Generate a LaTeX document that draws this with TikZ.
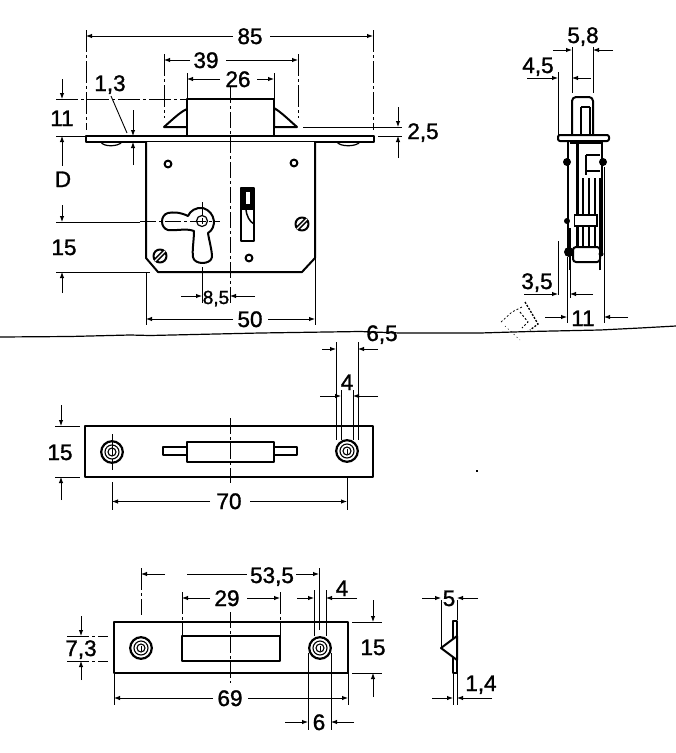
\documentclass[tikz,border=0pt]{standalone}
\usepackage{fontspec}
\setmainfont{Liberation Sans}
\newfontfamily\dimfont[FakeBold=1.3]{Liberation Sans}
\usetikzlibrary{arrows.meta}
\tikzset{
  lab/.style={font=\dimfont\fontsize{22.5}{22.5}\selectfont,inner sep=0pt,text height=16pt,text depth=0pt,anchor=center},
  part/.style={draw=black,line width=2pt,line join=round},
  thin part/.style={draw=black,line width=1.2pt},
  dimline/.style={draw=black,line width=0.9pt},
  arr/.style={draw=black,line width=0.9pt,-{Latex[length=6pt,width=4.5pt]}},
  cline/.style={draw=black,line width=0.9pt,dash pattern=on 16pt off 3pt on 3pt off 3pt},
  brk/.style={draw=black,line width=0.9pt,dash pattern=on 22pt off 3pt on 3pt off 3pt},
  fold/.style={draw=black,line width=1.2pt,line join=round},
}
\newcommand{\screwhead}[2]{%
  \draw[part] (#1,#2) circle (6.5);
  \draw[black,line width=4.4pt] (#1-5,#2+5) -- (#1+5,#2-5);
  \draw[white,line width=1.3pt] (#1-5,#2+5) -- (#1+5,#2-5);
}
\newcommand{\countersunk}[2]{%
  \draw[black,line width=2.2pt,fill=white] (#1,#2) circle (10.8);
  \draw[black,line width=1.1pt] (#1,#2) circle (7);
  \draw[black,line width=1.1pt] (#1,#2) circle (4);
  \draw[black,line width=0.9pt] (#1,#2-2.5) -- (#1,#2+2.5);
}
\begin{document}
\begin{tikzpicture}[x=1pt,y=-1pt]
\useasboundingbox (0,0) rectangle (676,753);
\fill[white] (0,0) rectangle (676,753);

% ---------- scan fold
\draw[fold] (0,337) -- (70,336.5) -- (130,335) -- (150,335.5) -- (260,333) -- (360,331.5) -- (400,333) -- (480,333) -- (530,331.5) -- (600,330) -- (640,328) -- (676,326);
\draw[black,line width=0.7pt,dash pattern=on 2pt off 2pt] (501,322) -- (512,312) -- (522,307);
\draw[black,line width=1.3pt,dash pattern=on 2pt off 1.5pt] (525,302) -- (531,312) -- (538,324) -- (530,330);
\draw[black,line width=1pt,dash pattern=on 2pt off 2pt] (520,312) -- (528,322) -- (522,328);
\draw[black,line width=0.6pt,dash pattern=on 1pt off 3pt] (505,326) -- (520,340);
\fill[black] (476,470) rectangle (478,471.5);

% ---------- front view: lock
\draw[part,fill=white] (164,127) .. controls (172,120) and (180,112) .. (187,109) -- (187,127) -- cycle;
\draw[part,fill=white] (297,127) .. controls (289,120) and (281,112) .. (274,108) -- (274,127) -- cycle;
\draw[part,fill=white] (187,99) rectangle (274,136);
\draw[part,fill=white] (86,136) rectangle (374,142);
\draw[thin part] (101,142) .. controls (103,147) and (118,147) .. (122,142);
\draw[thin part] (337,142) .. controls (340,147) and (356,147) .. (360,142);
\draw[part,fill=white] (146,142) -- (146,258) -- (158,272) -- (302,272) -- (315,258) -- (315,142);
\draw[part] (168,164) circle (3.4);
\draw[part] (294,163) circle (3.4);
\draw[part] (249,258) circle (3.4);
\screwhead{302}{224}
\screwhead{160}{256}
% keyhole
\draw[part,fill=white] (188,216) .. controls (180,212) and (173,212) .. (168,213)
  .. controls (160,215) and (160,228) .. (168,230)
  .. controls (176,231) and (186,228) .. (194,231)
  .. controls (194,240) and (192,250) .. (193,257)
  .. controls (194,265) and (211,265) .. (212,257)
  .. controls (212,250) and (209,240) .. (208,233)
  .. controls (217,228) and (216,212) .. (203,208)
  .. controls (196,207) and (190,211) .. (188,216) -- cycle;
\draw[thin part] (202,221) circle (5.5);
\draw[line width=0.8pt] (199,221) -- (205,221) (202,218) -- (202,224);
% bolt-gear slot
\draw[part,fill=white] (241,188) rectangle (254,241);
\fill[black] (241,188) rectangle (254,210);
\fill[white] (246,192) rectangle (250,204);
\draw[black,line width=1.5pt] (246,208) .. controls (246,216) and (250,222) .. (254,224);
% centre lines
\draw[cline] (230,87) -- (230,303);
\draw[cline] (140,221) -- (220,221);
\draw[cline] (202,202) -- (202,216);
% dimensions
\node[lab] (d85) at (250,36) {85};
\draw[arr] (233,36) -- (86,36);
\draw[arr] (270,36) -- (373,36);
\draw[brk] (86,30) -- (86,130);
\draw[brk] (373,30) -- (373,130);
\node[lab] (d39) at (206,60) {39};
\draw[arr] (190,60) -- (164,60);
\draw[arr] (226,60) -- (298,60);
\draw[brk] (164,54) -- (164,118);
\draw[brk] (298,54) -- (298,118);
\node[lab] (d26) at (238,79) {26};
\draw[arr] (220,79) -- (187,79);
\draw[arr] (257,79) -- (274,79);
\draw[dimline] (187,73) -- (187,99);
\draw[dimline] (274,73) -- (274,99);
\node[lab] (d11) at (62,118) {11};
\node[lab] (dD) at (63,179) {D};
\node[lab] (d15a) at (64,247) {15};
\draw[arr] (62,79) -- (62,99);
\draw[arr] (62,152) -- (62,136);
\draw[brk] (56,99) -- (187,99);
\draw[dimline] (56,136) -- (86,136);
\draw[cline] (62,152) -- (62,166);
\draw[arr] (62,205) -- (62,222);
\draw[dimline] (56,222) -- (140,222);
\draw[dimline] (56,272) -- (150,272);
\draw[arr] (62,293) -- (62,272);
\node[lab] (d13) at (110,83) {1,3};
\draw[dimline] (111,96) -- (127,133);
\draw[arr] (133,110) -- (133,136);
\draw[arr] (133,165) -- (133,142);
\node[lab] (d25) at (423,131) {2,5};
\draw[dimline] (303,127) -- (402,127);
\draw[dimline] (378,136) -- (402,136);
\draw[arr] (398,107) -- (398,127);
\draw[arr] (398,158) -- (398,136);
\node[lab,font=\dimfont\fontsize{19}{19}\selectfont] (d85b) at (216,296) {8,5};
\draw[dimline] (202,267) -- (202,303);
\draw[arr] (181,296) -- (202,296);
\draw[arr] (255,296) -- (230,296);
\node[lab] (d50) at (250,319) {50};
\draw[dimline] (146,272) -- (146,325);
\draw[dimline] (315,258) -- (315,325);
\draw[arr] (233,319) -- (146,319);
\draw[arr] (268,319) -- (315,319);

% ---------- side view
\draw[part,fill=white,rounded corners=4pt] (572,135) -- (572,97) -- (593,97) -- (593,135);
\draw[black,line width=2.2pt] (581,107) -- (581,135);
\draw[black,line width=1.2pt] (590,107) -- (590,135);
\draw[black,line width=1.2pt] (581,107) -- (590,107);
\draw[part,fill=white,rounded corners=2pt] (558,135) rectangle (609,141);
\draw[part] (568,141) -- (568,252);
\draw[part] (602,141) -- (602,252);
\draw[black,line width=3pt] (577,141) -- (577,252);
\draw[black,line width=1.8pt] (570,270) -- (570,228);
\draw[black,line width=1.8pt] (600,270) -- (600,228);
\draw[black,line width=1.4pt] (570,143) -- (602,143);
\draw[black,line width=1.4pt] (586,155) -- (600,155);
\draw[black,line width=1.4pt] (586,155) -- (586,175);
\draw[black,line width=1.4pt] (586,171) -- (600,171);
\foreach \xx in {583,589,595,600} \draw[black,line width=1.3pt] (\xx,178) -- (\xx,248);
\fill[white] (574.5,215) rectangle (597,226);
\draw[black,line width=1.3pt] (574.5,215) rectangle (597,226);
\draw[part,fill=white,rounded corners=3pt] (573,247) rectangle (600,262);
\fill[black] (567,162) circle (4);
\fill[black] (603,162) circle (4);
\fill[black] (567,221) circle (3);
\fill[black] (569,252) circle (5);
\fill[black] (601,254) circle (2.5);
\node[lab] (s58) at (583,35) {5,8};
\draw[dimline] (572,47) -- (572,93);
\draw[dimline] (593,47) -- (593,93);
\draw[arr] (553,50) -- (572,50);
\draw[arr] (613,50) -- (593,50);
\node[lab] (s45) at (538,65) {4,5};
\draw[dimline] (558,72) -- (558,135);
\draw[dimline] (558,241) -- (558,295);
\draw[arr] (527,78) -- (558,78);
\draw[arr] (591,78) -- (572,78);
\node[lab] (s35) at (537,281) {3,5};
\draw[dimline] (570,270) -- (570,298);
\draw[arr] (524,294) -- (558,294);
\draw[arr] (593,294) -- (570,294);
\node[lab] (s11) at (583,318) {11};
\draw[dimline] (567,257) -- (567,323);
\draw[dimline] (604,167) -- (604,323);
\draw[arr] (545,317) -- (567,317);
\draw[arr] (628,317) -- (604,317);

% ---------- forend plate
\draw[part,fill=white] (85,426) rectangle (373,477);
\countersunk{112}{452}
\countersunk{347}{451}
\draw[part,fill=white] (163,447) rectangle (187,455);
\draw[part,fill=white] (274,447) rectangle (297,455);
\draw[part,fill=white] (187,442) rectangle (274,462);
\draw[cline] (230,418) -- (230,483);
\draw[cline] (112,434) -- (112,470);
\node[lab] (p15) at (60,452) {15};
\draw[dimline] (55,426) -- (80,426);
\draw[dimline] (55,477) -- (80,477);
\draw[arr] (61,405) -- (61,426);
\draw[arr] (61,500) -- (61,477);
\node[lab] (p70) at (229,501) {70};
\draw[dimline] (112,482) -- (112,510);
\draw[dimline] (347,478) -- (347,510);
\draw[arr] (210,501.5) -- (112,501.5);
\draw[arr] (250,501.5) -- (347,501.5);
\node[lab] (p4) at (347,382) {4};
\draw[dimline] (341,390) -- (341,440);
\draw[dimline] (353,390) -- (353,440);
\draw[arr] (320,396) -- (341,396);
\draw[arr] (378,396) -- (353,396);
\node[lab,fill=none] (p65) at (382,333) {6,5};
\draw[dimline] (336,342) -- (336,440);
\draw[dimline] (358,342) -- (358,440);
\draw[arr] (322,349) -- (336,349);
\draw[arr] (378,349) -- (358,349);

% ---------- striking plate
\draw[part,fill=white] (114,622) rectangle (348,673);
\countersunk{141}{648}
\countersunk{320}{648}
\draw[part,fill=white] (182,636) rectangle (280,661);
\draw[cline] (230,612) -- (230,683);
\node[lab] (q535) at (272,575) {53,5};
\draw[brk] (141,568) -- (141,615);
\draw[dimline] (319,568) -- (319,630);
\draw[arr] (165,574) -- (141,574);
\draw[dimline] (187,574) -- (247,574);
\draw[arr] (296,574) -- (319,574);
\node[lab] (q29) at (227,598) {29};
\draw[brk] (182,592) -- (182,636);
\draw[brk] (280,592) -- (280,636);
\draw[arr] (210,598) -- (182,598);
\draw[arr] (247,598) -- (280,598);
\node[lab] (q4) at (342,588) {4};
\draw[dimline] (314,590) -- (314,636);
\draw[dimline] (326,590) -- (326,636);
\draw[arr] (297,598) -- (314,598);
\draw[arr] (357,598) -- (326,598);
\node[lab] (q15) at (373,647) {15};
\draw[dimline] (352,622) -- (382,622);
\draw[dimline] (352,673) -- (382,673);
\draw[arr] (373,600) -- (373,622);
\draw[arr] (373,697) -- (373,673);
\node[lab] (q73) at (81,648) {7,3};
\draw[brk] (67,636) -- (108,636);
\draw[brk] (67,661) -- (108,661);
\draw[arr] (81,616) -- (81,636);
\draw[arr] (81,680) -- (81,661);
\node[lab] (q69) at (230,698) {69};
\draw[dimline] (114,673) -- (114,705);
\draw[dimline] (348,673) -- (348,705);
\draw[arr] (213,698) -- (114,698);
\draw[arr] (248,698) -- (348,698);
\node[lab] (q6) at (319,722) {6};
\draw[dimline] (308,653) -- (308,730);
\draw[dimline] (331,653) -- (331,730);
\draw[arr] (285,722) -- (308,722);
\draw[arr] (354,722) -- (331,722);
% striking plate section
\draw[part,fill=white] (453,621) rectangle (457,673);
\draw[part,fill=white] (441,648) -- (457,636) -- (457,660) -- cycle;
\node[lab] (q5) at (449,598) {5};
\draw[dimline] (441,600) -- (441,647);
\draw[dimline] (457,600) -- (457,620);
\draw[arr] (422,598) -- (441,598);
\draw[arr] (478,598) -- (457,598);
\node[lab] (q14) at (481,683) {1,4};
\draw[dimline] (453,673) -- (453,705);
\draw[dimline] (457,673) -- (457,705);
\draw[arr] (432,698) -- (453,698);
\draw[arr] (492,698) -- (457,698);
\end{tikzpicture}
\end{document}
